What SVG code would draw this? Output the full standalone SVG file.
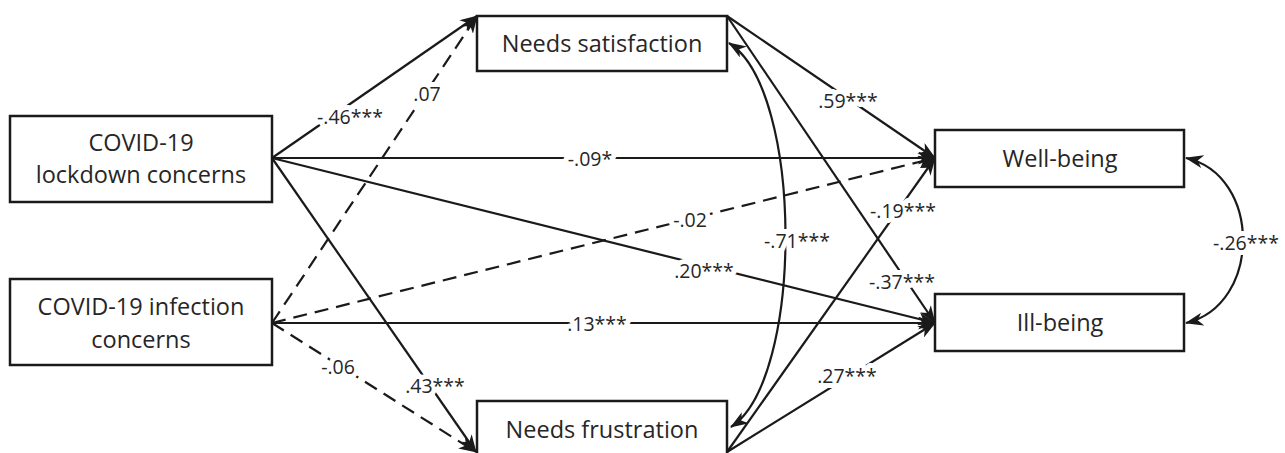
<svg xmlns="http://www.w3.org/2000/svg" width="1285" height="453" viewBox="0 0 1285 453">
<defs>
<marker id="ah" viewBox="0 0 18 13" refX="17" refY="6.5" markerWidth="18" markerHeight="13" markerUnits="userSpaceOnUse" orient="auto-start-reverse">
<path d="M0,0 L18,6.5 L0,13 L5,6.5 z" fill="#1a1a1a"/>
</marker>
<style>
.box{fill:#fff;stroke:#1a1a1a;stroke-width:2.5}
.nt{font-family:"Open Sans","Noto Sans",sans-serif;font-size:23.5px;fill:#262626;text-anchor:middle}
.ln{fill:none;stroke:#1a1a1a;stroke-width:2.2}
.d{stroke-dasharray:14,8}
.lb{font-family:"Open Sans","Noto Sans",sans-serif;font-size:19.5px;fill:#262626;text-anchor:middle;dominant-baseline:central;paint-order:stroke;stroke:#fff;stroke-width:10px;stroke-linejoin:round}
</style>
</defs>
<g id="connectors">
<line class="ln" x1="272" y1="158" x2="477" y2="16" marker-end="url(#ah)"/>
<line class="ln d" x1="272" y1="323" x2="477" y2="16" marker-end="url(#ah)"/>
<line class="ln" x1="272" y1="158" x2="935" y2="158" marker-end="url(#ah)"/>
<line class="ln" x1="272" y1="158" x2="935" y2="323" marker-end="url(#ah)"/>
<line class="ln d" x1="272" y1="323" x2="935" y2="158" marker-end="url(#ah)"/>
<line class="ln" x1="272" y1="323" x2="935" y2="323" marker-end="url(#ah)"/>
<line class="ln" x1="272" y1="158" x2="476" y2="452" marker-end="url(#ah)"/>
<line class="ln d" x1="272" y1="323" x2="476" y2="452" marker-end="url(#ah)"/>
<line class="ln" x1="727" y1="16" x2="935" y2="158" marker-end="url(#ah)"/>
<line class="ln" x1="727" y1="16" x2="935" y2="323" marker-end="url(#ah)"/>
<line class="ln" x1="727" y1="452" x2="935" y2="158" marker-end="url(#ah)"/>
<line class="ln" x1="727" y1="452" x2="935" y2="323" marker-end="url(#ah)"/>
<path class="ln" d="M729,43 C804,90 804,380 731,427" marker-start="url(#ah)" marker-end="url(#ah)"/>
<path class="ln" d="M1186,158 C1262,175 1262,305 1186,323" marker-start="url(#ah)" marker-end="url(#ah)"/>
<text class="lb" x="350" y="116">-.46***</text>
<text class="lb" x="427" y="93">.07</text>
<text class="lb" x="590" y="158">-.09*</text>
<text class="lb" x="704" y="270">.20***</text>
<text class="lb" x="690" y="219">-.02</text>
<text class="lb" x="597" y="323">.13***</text>
<text class="lb" x="435" y="385">.43***</text>
<text class="lb" x="338" y="366">-.06</text>
<text class="lb" x="848" y="100">.59***</text>
<text class="lb" x="902" y="281">-.37***</text>
<text class="lb" x="903" y="210">-.19***</text>
<text class="lb" x="847" y="375">.27***</text>
<text class="lb" x="797" y="240">-.71***</text>
<text class="lb" x="1246" y="242">-.26***</text>
</g>
<g id="lockdown">
<rect class="box" x="10" y="116" width="262" height="86"/>
<text class="nt" x="141" y="151">COVID-19</text>
<text class="nt" x="141" y="183">lockdown concerns</text>
</g>
<g id="infection">
<rect class="box" x="10" y="279" width="262" height="86"/>
<text class="nt" x="141" y="315">COVID-19 infection</text>
<text class="nt" x="141" y="348">concerns</text>
</g>
<g id="needs-satisfaction">
<rect class="box" x="477" y="16" width="250" height="55"/>
<text class="nt" x="602" y="52">Needs satisfaction</text>
</g>
<g id="needs-frustration">
<rect class="box" x="477" y="401" width="250" height="56"/>
<text class="nt" x="602" y="438">Needs frustration</text>
</g>
<g id="well-being">
<rect class="box" x="935" y="130" width="249" height="57"/>
<text class="nt" x="1060" y="167">Well-being</text>
</g>
<g id="ill-being">
<rect class="box" x="935" y="294" width="249" height="57"/>
<text class="nt" x="1060" y="331">Ill-being</text>
</g>
</svg>
